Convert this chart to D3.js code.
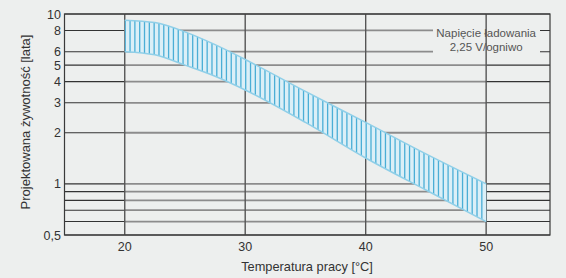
<!DOCTYPE html>
<html>

<head>
    <meta charset='utf-8'>
    <title>Projektowana żywotność</title>
    <script type='text/javascript' src='https://cdn.jsdelivr.net/npm/d3@7'></script>
    <style>
        body { margin: 0; background: #edefee; }
        text { font-family: 'Liberation Sans', Arial, sans-serif; }
    </style>
</head>

<body>
    <svg width='566' height='278'></svg>
    <script type='text/javascript'>

        // dane
        const temps = [20, 22.5, 25, 27.5, 30, 35, 40, 45, 50]
        const upper = [9.2, 8.9, 7.85, 6.6, 5.4, 3.5, 2.3, 1.5, 1.0]
        const lower = [6.0, 5.75, 5.0, 4.3, 3.57, 2.3, 1.42, 0.92, 0.6]

        const xTicks = [20, 30, 40, 50]
        const yGrid = [10, 8, 6, 5, 4, 3, 2, 1, 0.9, 0.8, 0.7, 0.6, 0.5]
        const yLabels = [10, 8, 6, 5, 4, 3, 2, 1, 0.5]

        const note = ['Napięcie ładowania', '2,25 V/ogniwo']

        const svg = d3.select('svg')

        const x = d3.scaleLinear().domain([15, 55.3]).range([64.5, 550])
        const y = d3.scaleLog().domain([0.5, 10]).range([235, 14])

        const x0 = x(20), x1 = x(50)

        // linie poziome siatki: ciemne poza zakresem 20-50, szare wewnątrz
        const hGrid = svg.append('g')
        hGrid.selectAll('line.in')
            .data(yGrid)
            .enter()
            .append('line')
            .attr('x1', x0).attr('x2', x1)
            .attr('y1', d => y(d)).attr('y2', d => y(d))
            .attr('stroke', '#8c8c8c')
            .attr('stroke-width', 1.8)
        hGrid.selectAll('line.left')
            .data(yGrid)
            .enter()
            .append('line')
            .attr('x1', x.range()[0]).attr('x2', x0)
            .attr('y1', d => y(d)).attr('y2', d => y(d))
            .attr('stroke', '#333')
            .attr('stroke-width', 1.1)
        hGrid.selectAll('line.right')
            .data(yGrid)
            .enter()
            .append('line')
            .attr('x1', x1).attr('x2', x.range()[1])
            .attr('y1', d => y(d)).attr('y2', d => y(d))
            .attr('stroke', '#333')
            .attr('stroke-width', 1.1)

        // tło pod opisem
        svg.append('rect')
            .attr('x', 433).attr('y', 24)
            .attr('width', 107).attr('height', 32)
            .attr('fill', '#edefee')

        // linie pionowe siatki
        svg.append('g').selectAll('line')
            .data(xTicks)
            .enter()
            .append('line')
            .attr('x1', d => x(d)).attr('x2', d => x(d))
            .attr('y1', y.range()[1]).attr('y2', y.range()[0])
            .attr('stroke', '#555')
            .attr('stroke-width', 1.4)

        // pasmo żywotności
        const band = temps.map((t, i) => ({ t: t, hi: upper[i], lo: lower[i] }))

        const area = d3.area()
            .x(d => x(d.t))
            .y0(d => y(d.lo))
            .y1(d => y(d.hi))
            .curve(d3.curveMonotoneX)

        svg.append('clipPath').attr('id', 'bandClip')
            .append('path').attr('d', area(band))

        svg.append('path')
            .attr('d', area(band))
            .attr('fill', '#dbeff7')

        // kreskowanie pionowe co 0,4 °C
        const hatch = d3.range(20, 50.01, 0.4)
        svg.append('g')
            .attr('clip-path', 'url(#bandClip)')
            .selectAll('line')
            .data(hatch)
            .enter()
            .append('line')
            .attr('x1', d => x(d) + 0.5).attr('x2', d => x(d) + 0.5)
            .attr('y1', y.range()[1]).attr('y2', y.range()[0])
            .attr('stroke', '#4aaed6')
            .attr('stroke-width', 1.3)

        const edge = d3.line().x(d => x(d.t)).curve(d3.curveMonotoneX)
        svg.append('path')
            .attr('d', edge.y(d => y(d.hi))(band))
            .attr('fill', 'none').attr('stroke', '#8fcfe8').attr('stroke-width', 1.5)
        svg.append('path')
            .attr('d', edge.y(d => y(d.lo))(band))
            .attr('fill', 'none').attr('stroke', '#8fcfe8').attr('stroke-width', 1.5)

        // ramka
        svg.append('rect')
            .attr('x', x.range()[0]).attr('y', y.range()[1])
            .attr('width', x.range()[1] - x.range()[0])
            .attr('height', y.range()[0] - y.range()[1])
            .attr('fill', 'none')
            .attr('stroke', '#3a3a3a')
            .attr('stroke-width', 1.2)

        // opisy osi
        svg.append('g').selectAll('text')
            .data(yLabels)
            .enter()
            .append('text')
            .attr('x', 61)
            .attr('y', d => y(d) + 4.5)
            .attr('text-anchor', 'end')
            .attr('font-size', 12.5)
            .attr('fill', '#333')
            .text(d => String(d).replace('.', ','))

        svg.append('g').selectAll('text')
            .data(xTicks)
            .enter()
            .append('text')
            .attr('x', d => x(d))
            .attr('y', 251)
            .attr('text-anchor', 'middle')
            .attr('font-size', 12.5)
            .attr('fill', '#333')
            .text(d => d)

        svg.append('text')
            .attr('x', 307).attr('y', 271)
            .attr('text-anchor', 'middle')
            .attr('font-size', 12.8)
            .attr('fill', '#333')
            .text('Temperatura pracy [°C]')

        svg.append('text')
            .attr('transform', 'translate(30,122) rotate(-90)')
            .attr('text-anchor', 'middle')
            .attr('font-size', 13)
            .attr('fill', '#333')
            .text('Projektowana żywotność [lata]')

        svg.append('g').selectAll('text')
            .data(note)
            .enter()
            .append('text')
            .attr('x', x(50))
            .attr('y', (d, i) => 37 + i * 13.5)
            .attr('text-anchor', 'middle')
            .attr('font-size', 11.5)
            .attr('fill', '#555')
            .text(d => d)
    </script>
</body>

</html>
